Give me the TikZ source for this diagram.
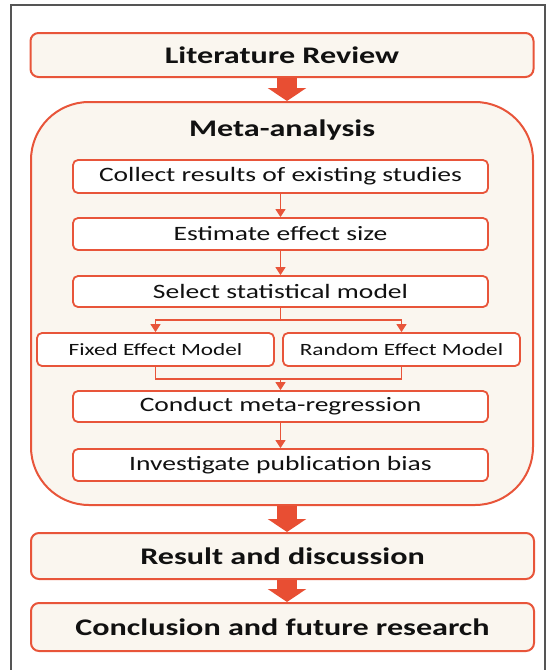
\documentclass[tikz,border=0pt]{standalone}
\usepackage{fontspec}
\setmainfont[FakeStretch=1.35]{Carlito}
\usetikzlibrary{arrows.meta}
\definecolor{edge}{HTML}{E8553A}
\definecolor{bigarr}{HTML}{E84E33}
\definecolor{cream}{HTML}{FAF6EF}
\definecolor{ink}{HTML}{111111}
\definecolor{frame}{HTML}{555555}
\tikzset{
  mainbox/.style={draw=edge, fill=cream, line width=2pt, rounded corners=8pt,
    minimum width=503pt, inner sep=0pt, text=ink,
    font=\fontsize{23.8}{28}\selectfont\bfseries},
  stepbox/.style={draw=edge, fill=white, line width=1.8pt, rounded corners=5pt,
    minimum width=415pt, minimum height=32pt, inner sep=0pt, text=ink,
    font=\fontsize{20.4}{24}\selectfont},
  modelbox/.style={draw=edge, fill=white, line width=1.8pt, rounded corners=5pt,
    minimum width=237pt, minimum height=33pt, inner sep=0pt, text=ink,
    font=\fontsize{17.2}{20}\selectfont},
  thinarr/.style={draw=edge, line width=1.2pt, -{Triangle[width=10pt,length=8pt]}},
  thinline/.style={draw=edge, line width=1.2pt},
  bigarrow/.style={draw=bigarr, line width=20pt, -{Triangle[width=38pt,length=13pt]}}
}
\begin{document}
\begin{tikzpicture}[x=1pt,y=-1pt]
\useasboundingbox (0,0) rectangle (549,670);
\draw[frame, line width=1.2pt] (11,672) -- (11,5) -- (545,5) -- (545,672);

\node[mainbox, minimum height=44pt] (lit) at (282,55) {Literature Review};
\node[draw=edge, fill=cream, line width=2pt, rounded corners=58pt,
      minimum width=502pt, minimum height=403pt, inner sep=0pt] (meta) at (282,303.5) {};
\node[text=ink, font=\fontsize{23.8}{28}\selectfont\bfseries] (metat) at (282,130) {Meta-analysis};

\node[stepbox, minimum height=33pt] (collect) at (280.5,176.5) {Collect results of existing studies};
\node[stepbox] (estimate) at (280.5,234) {Estimate effect size};
\node[stepbox, minimum height=31pt] (select) at (280.5,291.5) {Select statistical model};
\node[modelbox] (fixed) at (155.5,349.5) {Fixed Effect Model};
\node[modelbox] (random) at (401.5,349.5) {Random Effect Model};
\node[stepbox, minimum height=31pt] (conduct) at (280.5,406.5) {Conduct meta-regression};
\node[stepbox] (invest) at (280.5,465) {Investigate publication bias};

\node[mainbox, minimum height=46pt] (result) at (282.5,556) {Result and discussion};
\node[mainbox, minimum height=48pt] (concl) at (282.5,627) {Conclusion and future research};

\coordinate (sp) at (280.5,320);
\coordinate (mg) at (280.5,379);

\draw[thinarr] (collect.south) -- (estimate.north);
\draw[thinarr] (estimate.south) -- (select.north);
\draw[thinline] (select.south) -- (sp);
\draw[thinarr] (sp) -| (fixed.north);
\draw[thinarr] (sp) -| (random.north);
\draw[thinline] (fixed.south) |- (mg) -| (random.south);
\draw[thinarr] (mg) -- (conduct.north);
\draw[thinarr] (conduct.south) -- (invest.north);

\draw[bigarrow] (lit.south -| 287,0) -- (meta.north -| 287,0);
\draw[bigarrow] (meta.south -| 287,0) -- (result.north -| 287,0);
\draw[bigarrow] (result.south -| 287,0) -- (concl.north -| 287,0);
\end{tikzpicture}
\end{document}
